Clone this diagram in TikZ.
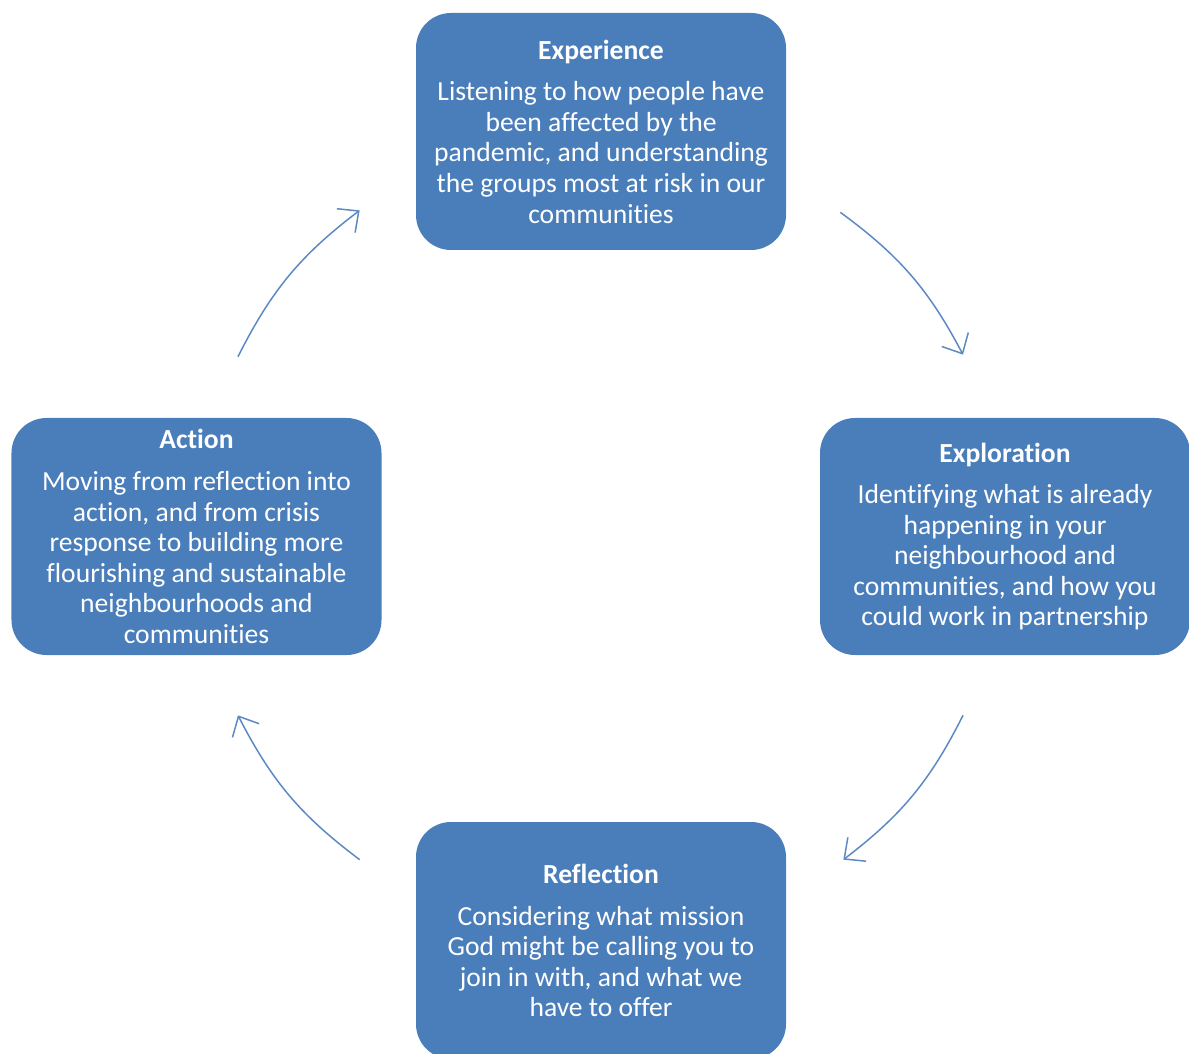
\documentclass[tikz,border=0pt]{standalone}
\usepackage{fontspec}
\setmainfont[Ligatures={NoCommon}]{Carlito}
\usepackage{tikz}
\usetikzlibrary{arrows.meta,positioning}

\definecolor{boxblue}{RGB}{74,126,187}
\definecolor{arrowblue}{RGB}{92,137,196}

\begin{document}
\begin{tikzpicture}[
        stage/.style={fill=boxblue, rounded corners=0.7cm, minimum width=7.4cm, minimum height=4.74cm,
            align=center, text=white, font=\fontsize{15.7}{17.4}\selectfont, inner sep=0pt},
        cyc/.style={draw=arrowblue, line width=0.85pt, -{Straight Barb[length=3.2mm,width=6mm]}, bend left=13}
    ]
            % page size
            \useasboundingbox (0,0) rectangle (23.78,21.06);

            % the four stages
            \node[stage] (exp) at (12.02,18.43) {\textbf{Experience}\\[0.22cm]
                Listening to how people have\\ been affected by the\\ pandemic, and understanding\\
                the groups most at risk in our\\ communities};
            \node[stage] (expl) at (20.10,10.33) {\textbf{Exploration}\\[0.22cm]
                Identifying what is already\\ happening in your\\ neighbourhood and\\
                communities, and how you\\ could work in partnership};
            \node[stage] (refl) at (12.02,2.25) {\textbf{Reflection}\\[0.22cm]
                Considering what mission\\ God might be calling you to\\ join in with, and what we\\ have to offer};
            \node[stage] (act) at (3.93,10.33) {\textbf{Action}\\[0.22cm]
                Moving from reflection into\\ action, and from crisis\\ response to building more\\
                flourishing and sustainable\\ neighbourhoods and\\ communities};

            % arrows round the cycle
            \draw[cyc] ([shift={(1.08,0.76)}]exp.south east) to ([shift={(-0.84,1.26)}]expl.north);
            \draw[cyc] ([shift={(-0.84,-1.20)}]expl.south) to ([shift={(1.14,-0.76)}]refl.north east);
            \draw[cyc] ([shift={(-1.12,-0.76)}]refl.north west) to ([shift={(0.83,-1.20)}]act.south);
            \draw[cyc] ([shift={(0.83,1.22)}]act.north) to ([shift={(-1.12,0.80)}]exp.south west);
        \end{tikzpicture}
\end{document}
